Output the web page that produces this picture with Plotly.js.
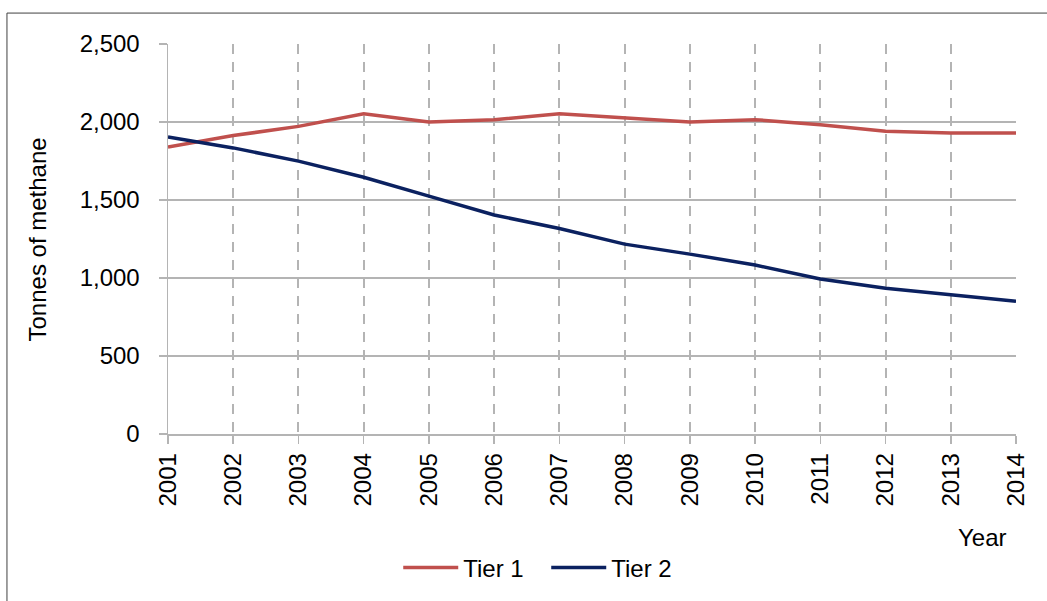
<!DOCTYPE html>
<html>
<head>
<meta charset="utf-8">
<script src="https://cdn.plot.ly/plotly-3.0.1.min.js"></script>
<style>
html,body{margin:0;padding:0;background:#fff;}
#chart{width:1047px;height:601px;}
</style>
</head>
<body>
<div id="chart"></div>
<script>
const years = [2001,2002,2003,2004,2005,2006,2007,2008,2009,2010,2011,2012,2013,2014];
const tier1 = [1840,1913,1972,2053,2000,2015,2053,2025,2000,2015,1983,1940,1930,1930];
const tier2 = [1904,1834,1749,1646,1525,1404,1317,1217,1153,1083,994,934,893,851];
const yTicks = [0,500,1000,1500,2000,2500];
const yTickText = ['0','500','1,000','1,500','2,000','2,500'];

const font = {family:'Arial, "Liberation Sans", sans-serif', size:24, color:'#000'};

const traces = [
  {x:years, y:tier1, name:'Tier 1', type:'scatter', mode:'lines',
   line:{color:'#C0504D', width:3.5}},
  {x:years, y:tier2, name:'Tier 2', type:'scatter', mode:'lines',
   line:{color:'#0B2160', width:3.5}}
];

const layout = {
  width:1047, height:601,
  margin:{l:168, r:31, t:44, b:166},
  paper_bgcolor:'#fff', plot_bgcolor:'#fff',
  font:font,
  showlegend:true,
  legend:{orientation:'h', x:0.2715, xanchor:'left', y:-0.34, yanchor:'middle',
          font:font, itemwidth:55, traceorder:'normal', entrywidth:78},
  xaxis:{range:[2001,2014], tickvals:years, ticktext:years.map(String),
         tickangle:-90, showgrid:true, gridcolor:'#B4B4B4', gridwidth:2,
         griddash:'10px,8px', showline:true, linecolor:'#B4B4B4', linewidth:1.5,
         ticks:'outside', ticklen:8, tickcolor:'#B4B4B4', tickwidth:1.5,
         zeroline:false, tickfont:font, ticklabelstandoff:0},
  yaxis:{range:[0,2500], tickvals:yTicks, ticktext:yTickText,
         showgrid:true, gridcolor:'#B4B4B4', gridwidth:1.5,
         showline:true, linecolor:'#B4B4B4', linewidth:1.5,
         ticks:'outside', ticklen:8, tickcolor:'#B4B4B4', tickwidth:1.5,
         zeroline:false, tickfont:font, ticklabelstandoff:14},
  annotations:[
    {text:'Tonnes of methane', xref:'paper', yref:'paper', x:-0.1533, y:0.4987,
     xanchor:'center', yanchor:'middle', textangle:-90, showarrow:false, font:font},
    {text:'Year', xref:'paper', yref:'paper', x:0.9608, y:-0.266,
     xanchor:'center', yanchor:'middle', showarrow:false, font:font}
  ],
  shapes:[
    {type:'rect', xref:'paper', yref:'paper', x0:-0.1899, x1:1.05, y0:-0.46, y1:1.0793,
     line:{color:'#404040', width:1}, fillcolor:'rgba(0,0,0,0)', layer:'below'}
  ]
};

Plotly.newPlot('chart', traces, layout, {displayModeBar:false, staticPlot:true});
</script>
</body>
</html>
